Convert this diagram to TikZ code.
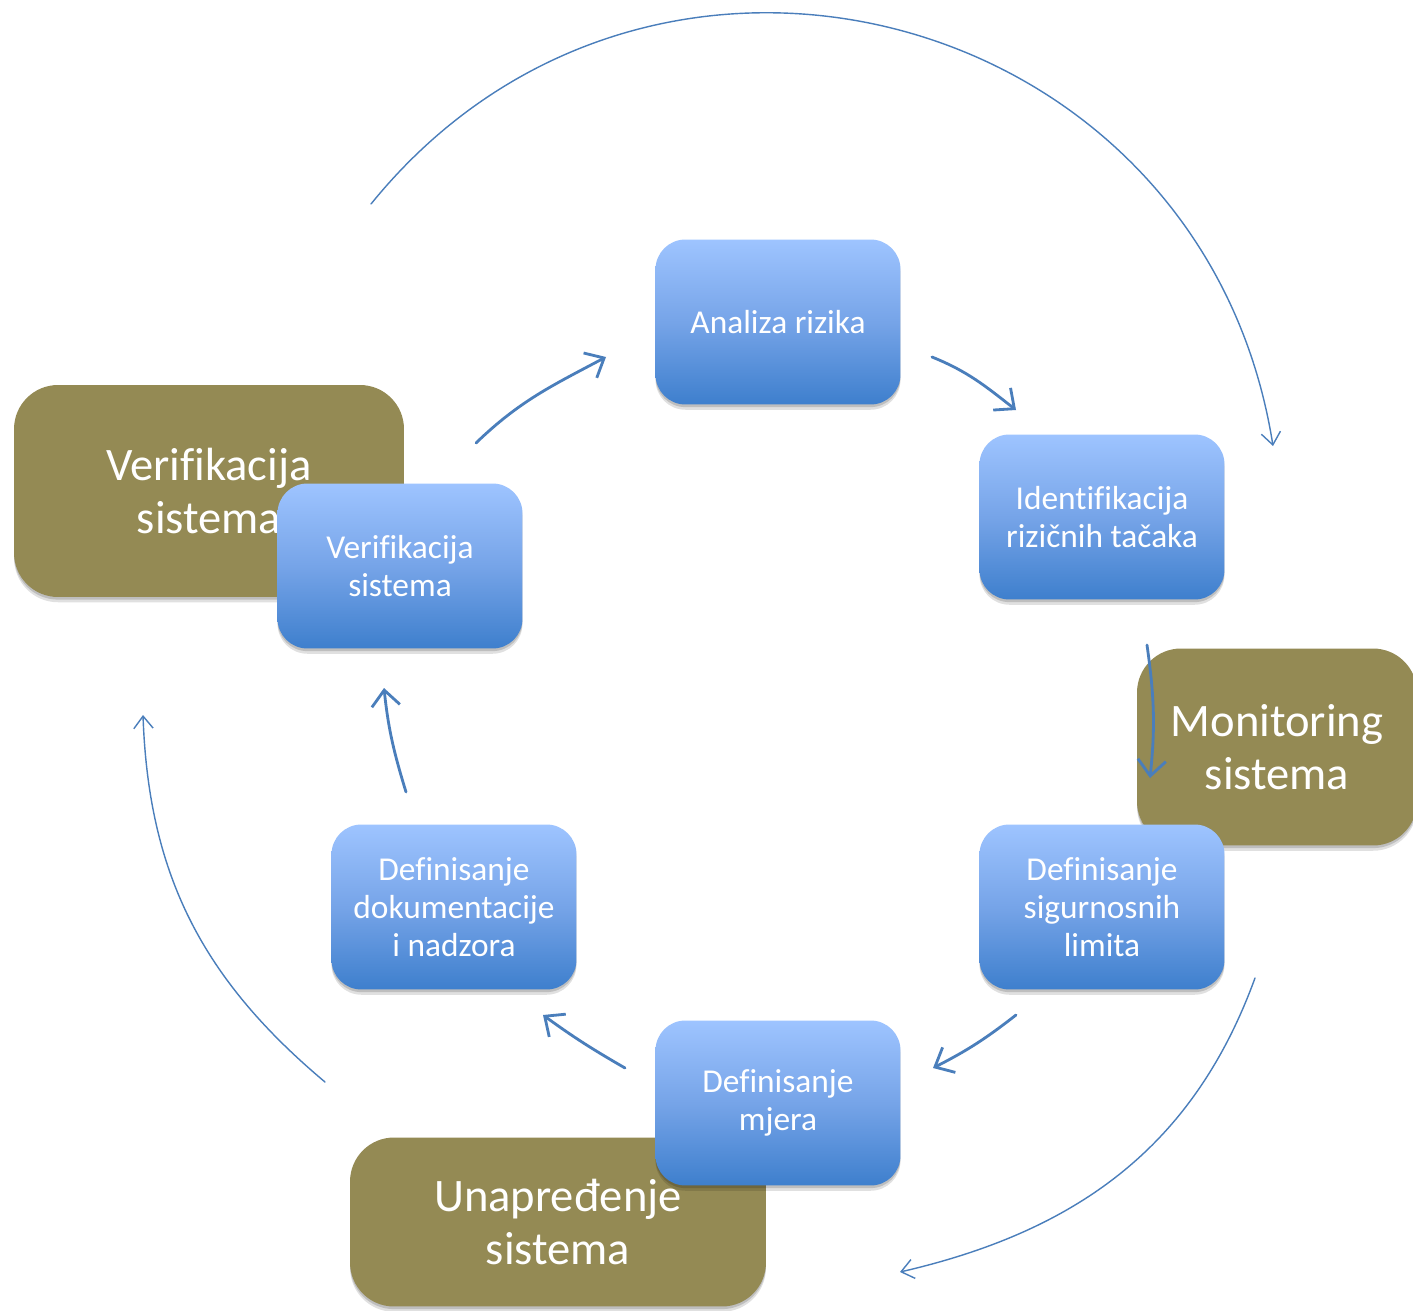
\documentclass[tikz,border=0pt]{standalone}
\usepackage{fontspec}
\setmainfont{Carlito}[Ligatures=NoCommon]
\usetikzlibrary{arrows.meta,shadows}
\definecolor{olivebg}{RGB}{148,138,84}
\definecolor{bluetop}{RGB}{158,196,255}
\definecolor{bluemid}{RGB}{118,164,232}
\definecolor{bluebot}{RGB}{62,127,205}
\definecolor{arrowblue}{RGB}{74,126,187}
\tikzset{
  softshadow/.style={drop shadow={shadow xshift=0pt, shadow yshift=-3pt, opacity=0.12, fill=black},
    drop shadow={shadow xshift=0pt, shadow yshift=-1.5pt, opacity=0.15, fill=black}},
  stepbox/.style={rounded corners=17pt, minimum width=4.9cm, minimum height=3.3cm,
    top color=bluetop, bottom color=bluebot, middle color=bluemid, text=white, align=center,
    font=\fontsize{19}{21.5}\selectfont, inner sep=2pt, softshadow},
  olivebox/.style={rounded corners=25pt, fill=olivebg, text=white, align=center,
    font=\fontsize{26.5}{30}\selectfont, inner sep=2pt, softshadow},
  inarrow/.style={draw=arrowblue, line width=1.6pt, line cap=round,
    -{Straight Barb[length=9pt,width=16pt,line width=1.6pt]}},
  outarrow/.style={draw=arrowblue, line width=0.8pt, line cap=round,
    -{Straight Barb[length=7pt,width=11pt,line width=0.8pt]}}
}
\begin{document}
\begin{tikzpicture}[x=0.02cm,y=0.02cm]
\useasboundingbox[fill=white] (0,0) rectangle (1413,-1311);
% olive boxes
\node[olivebox, minimum width=7.8cm, minimum height=4.24cm] (verO) at (209,-491) {Verifikacija\\sistema};
\node[olivebox, minimum width=5.6cm, minimum height=3.94cm] (monO) at (1277,-747) {Monitoring\\sistema};
\node[olivebox, minimum width=8.32cm, minimum height=3.38cm] (unaO) at (558,-1222) {Unapređenje\\sistema};
% blue boxes
\node[stepbox] (analiza) at (778,-322) {Analiza rizika};
\node[stepbox] (ident) at (1102,-517) {Identifikacija\\rizičnih tačaka};
\node[stepbox] (limit) at (1102,-907) {Definisanje\\sigurnosnih\\limita};
\node[stepbox] (mjera) at (778,-1103) {Definisanje\\mjera};
\node[stepbox] (dokum) at (454,-907) {Definisanje\\dokumentacije\\i nadzora};
\node[stepbox] (verB) at (400,-566) {Verifikacija\\sistema};
% inner arrow end points
\coordinate (a1s) at (476,-443); \coordinate (a1e) at (606,-357);
\coordinate (a2s) at (932,-357); \coordinate (a2e) at (1016,-410);
\coordinate (a3s) at (1147,-645); \coordinate (a3e) at (1150,-778);
\coordinate (a4s) at (1016,-1015); \coordinate (a4e) at (933,-1068);
\coordinate (a5s) at (625,-1068); \coordinate (a5e) at (543,-1015);
\coordinate (a6s) at (406,-792); \coordinate (a6e) at (384,-688);
\draw[inarrow] (a1s) to[out=44,in=208] (a1e);
\draw[inarrow] (a2s) to[out=-22,in=142] (a2e);
\draw[inarrow] (a3s) to[out=-82,in=84] (a3e);
\draw[inarrow] (a4s) to[out=-142,in=27] (a4e);
\draw[inarrow] (a5s) to[out=150,in=-36] (a5e);
\draw[inarrow] (a6s) to[out=107,in=-84] (a6e);
% outer arcs
\coordinate (o1s) at (371,-204); \coordinate (o1e) at (1273,-446);
\coordinate (o2s) at (1255,-978); \coordinate (o2e) at (900,-1272);
\coordinate (o3s) at (325,-1082); \coordinate (o3e) at (143,-715);
\draw[outarrow] (o1s) to[out=51,in=99,looseness=1.22] (o1e);
\draw[outarrow] (o2s) to[out=-110,in=13] (o2e);
\draw[outarrow] (o3s) to[out=140,in=-88] (o3e);
\end{tikzpicture}
\end{document}
